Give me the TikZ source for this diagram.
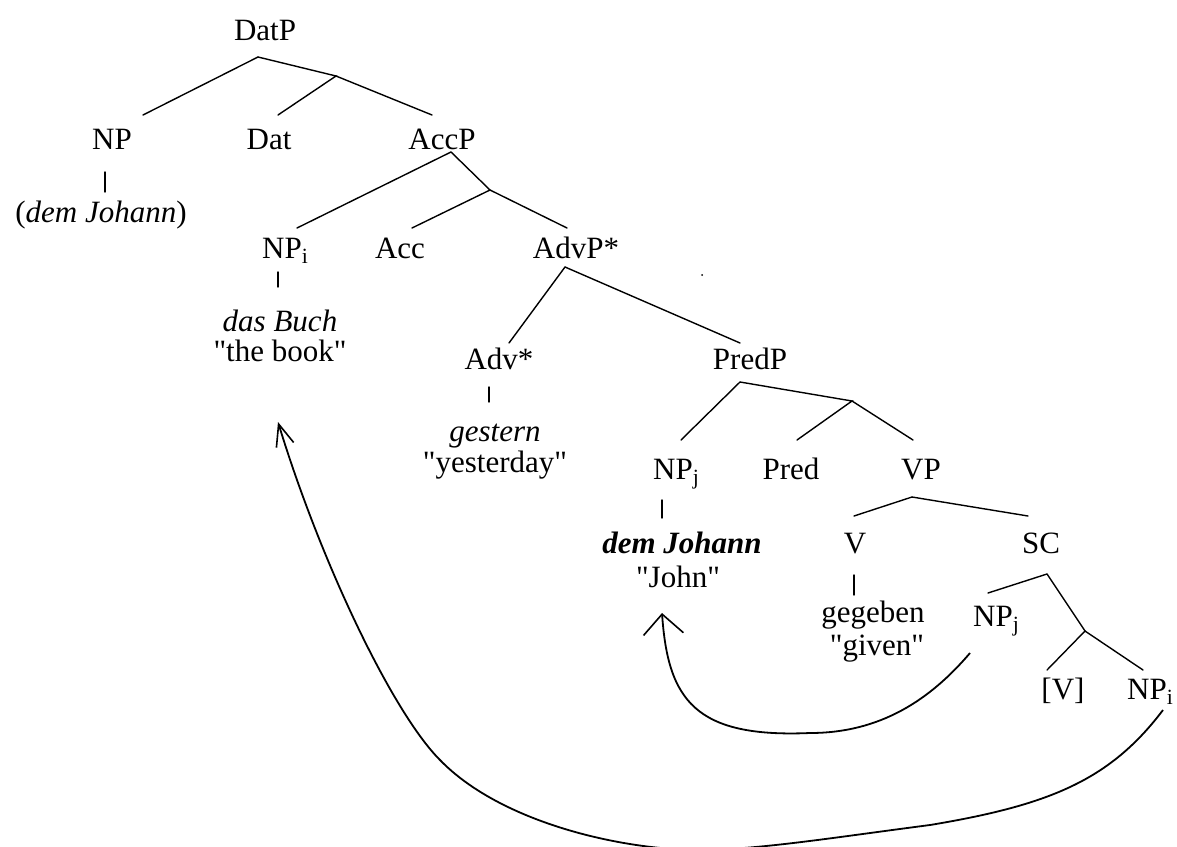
\documentclass[tikz,border=0pt]{standalone}
\usepackage{fontspec}
\newfontfamily\tfont{Liberation Serif}
\usetikzlibrary{arrows.meta}
\tikzset{
  lbl/.style={anchor=base, inner sep=0pt, font=\tfont\fontsize{31}{37}\selectfont},
  edge/.style={line width=1.4pt, line cap=round},
  move/.style={line width=1.8pt},
  smalltip/.style={-{Straight Barb[length=20pt,width=40pt,line width=1.6pt]}},
  bigtip/.style={-{Straight Barb[length=22pt,width=18pt,line width=1.6pt]}}
}
\begin{document}
\begin{tikzpicture}[x=1pt,y=-1pt]
\useasboundingbox (0,0) rectangle (1177,846);
\clip (0,0) rectangle (1177,846);
% labels
\node[lbl] (datp) at (265,40) {DatP};
\node[lbl] (np) at (112,149) {NP};
\node[lbl] (dat) at (269,149) {Dat};
\node[lbl] (accp) at (442,149) {AccP};
\node[lbl] (demj1) at (101,222) {(\textit{dem Johann})};
\node[lbl] (npi) at (282,258) {NP\rlap{\textsubscript{i}}};
\node[lbl] (acc) at (400,258) {Acc};
\node[lbl] (advp) at (576,258) {AdvP*};
\node[lbl] (dasbuch) at (280,331) {\textit{das Buch}};
\node[lbl] (thebook) at (280,361) {"the book"};
\node[lbl] (adv) at (499,369) {Adv*};
\node[lbl] (predp) at (750,369) {PredP};
\node[lbl] (gestern) at (495,441) {\textit{gestern}};
\node[lbl] (yesterday) at (495,472) {"yesterday"};
\node[lbl] (npj) at (673,479) {NP\rlap{\textsubscript{j}}};
\node[lbl] (pred) at (791,479) {Pred};
\node[lbl] (vp) at (921,479) {VP};
\node[lbl] (demj2) at (682,553) {\textbf{\textit{dem Johann}}};
\node[lbl] (john) at (678,587) {"John"};
\node[lbl] (v) at (855,553) {V};
\node[lbl] (sc) at (1041,553) {SC};
\node[lbl] (gegeben) at (873,622) {gegeben};
\node[lbl] (given) at (877,655) {"given"};
\node[lbl] (npj2) at (993,626) {NP\rlap{\textsubscript{j}}};
\node[lbl] (vbr) at (1063,699) {[V]};
\node[lbl] (npi2) at (1147,699) {NP\rlap{\textsubscript{i}}};
% branch points and line ends
\coordinate (datp-b) at (258,57);
\coordinate (j1) at (336,76);
\coordinate (np-t) at (143,115);
\coordinate (dat-t) at (278,115);
\coordinate (accp-t) at (432,115);
\coordinate (accp-b) at (451,152);
\coordinate (j2) at (490,190);
\coordinate (npi-t) at (297,228);
\coordinate (acc-t) at (412,228);
\coordinate (advp-t) at (567,228);
\coordinate (advp-b) at (565,267);
\coordinate (adv-t) at (509,343);
\coordinate (predp-t) at (740,343);
\coordinate (predp-b) at (740,382);
\coordinate (j3) at (852,401);
\coordinate (npj-t) at (681,440);
\coordinate (pred-t) at (797,440);
\coordinate (vp-t) at (913,440);
\coordinate (vp-b) at (912,497);
\coordinate (v-t) at (854,516);
\coordinate (sc-t) at (1028,516);
\coordinate (sc-b) at (1047,574);
\coordinate (npj2-t) at (988,593);
\coordinate (j4) at (1085,631);
\coordinate (vbr-t) at (1047,670);
\coordinate (npi2-t) at (1143,670);
% tree edges
\draw[edge] (datp-b) -- (np-t);
\draw[edge] (datp-b) -- (j1) -- (dat-t);
\draw[edge] (j1) -- (accp-t);
\draw[edge] (105,172) -- (105,192);
\draw[edge] (accp-b) -- (npi-t);
\draw[edge] (accp-b) -- (j2) -- (acc-t);
\draw[edge] (j2) -- (advp-t);
\draw[edge] (278,272) -- (278,287);
\draw[edge] (advp-b) -- (adv-t);
\draw[edge] (advp-b) -- (predp-t);
\draw[edge] (489,387) -- (489,402);
\draw[edge] (predp-b) -- (npj-t);
\draw[edge] (predp-b) -- (j3) -- (pred-t);
\draw[edge] (j3) -- (vp-t);
\draw[edge] (662,500) -- (662,518);
\draw[edge] (vp-b) -- (v-t);
\draw[edge] (vp-b) -- (sc-t);
\draw[edge] (854,575) -- (854,595);
\draw[edge] (sc-b) -- (npj2-t);
\draw[edge] (sc-b) -- (j4) -- (vbr-t);
\draw[edge] (j4) -- (npi2-t);
% stray dot
\fill (702,275) circle (1pt);
% movement arrows
\coordinate (m1s) at (970,653);
\coordinate (m1e) at (662,613);
\draw[move, smalltip] (m1s) .. controls (930,700) and (880,733) .. (810,733)
  .. controls (695,738) and (668,700) .. (m1e);
\coordinate (m2s) at (1163,710);
\coordinate (m2e) at (278,422);
\draw[move, bigtip] (m2s) .. controls (1110,780) and (1050,805) .. (930,825)
  .. controls (830,838) and (760,849.5) .. (700,850)
  .. controls (620,850) and (500,822) .. (440,760)
  .. controls (392,712) and (320,560) .. (m2e);
\end{tikzpicture}
\end{document}
